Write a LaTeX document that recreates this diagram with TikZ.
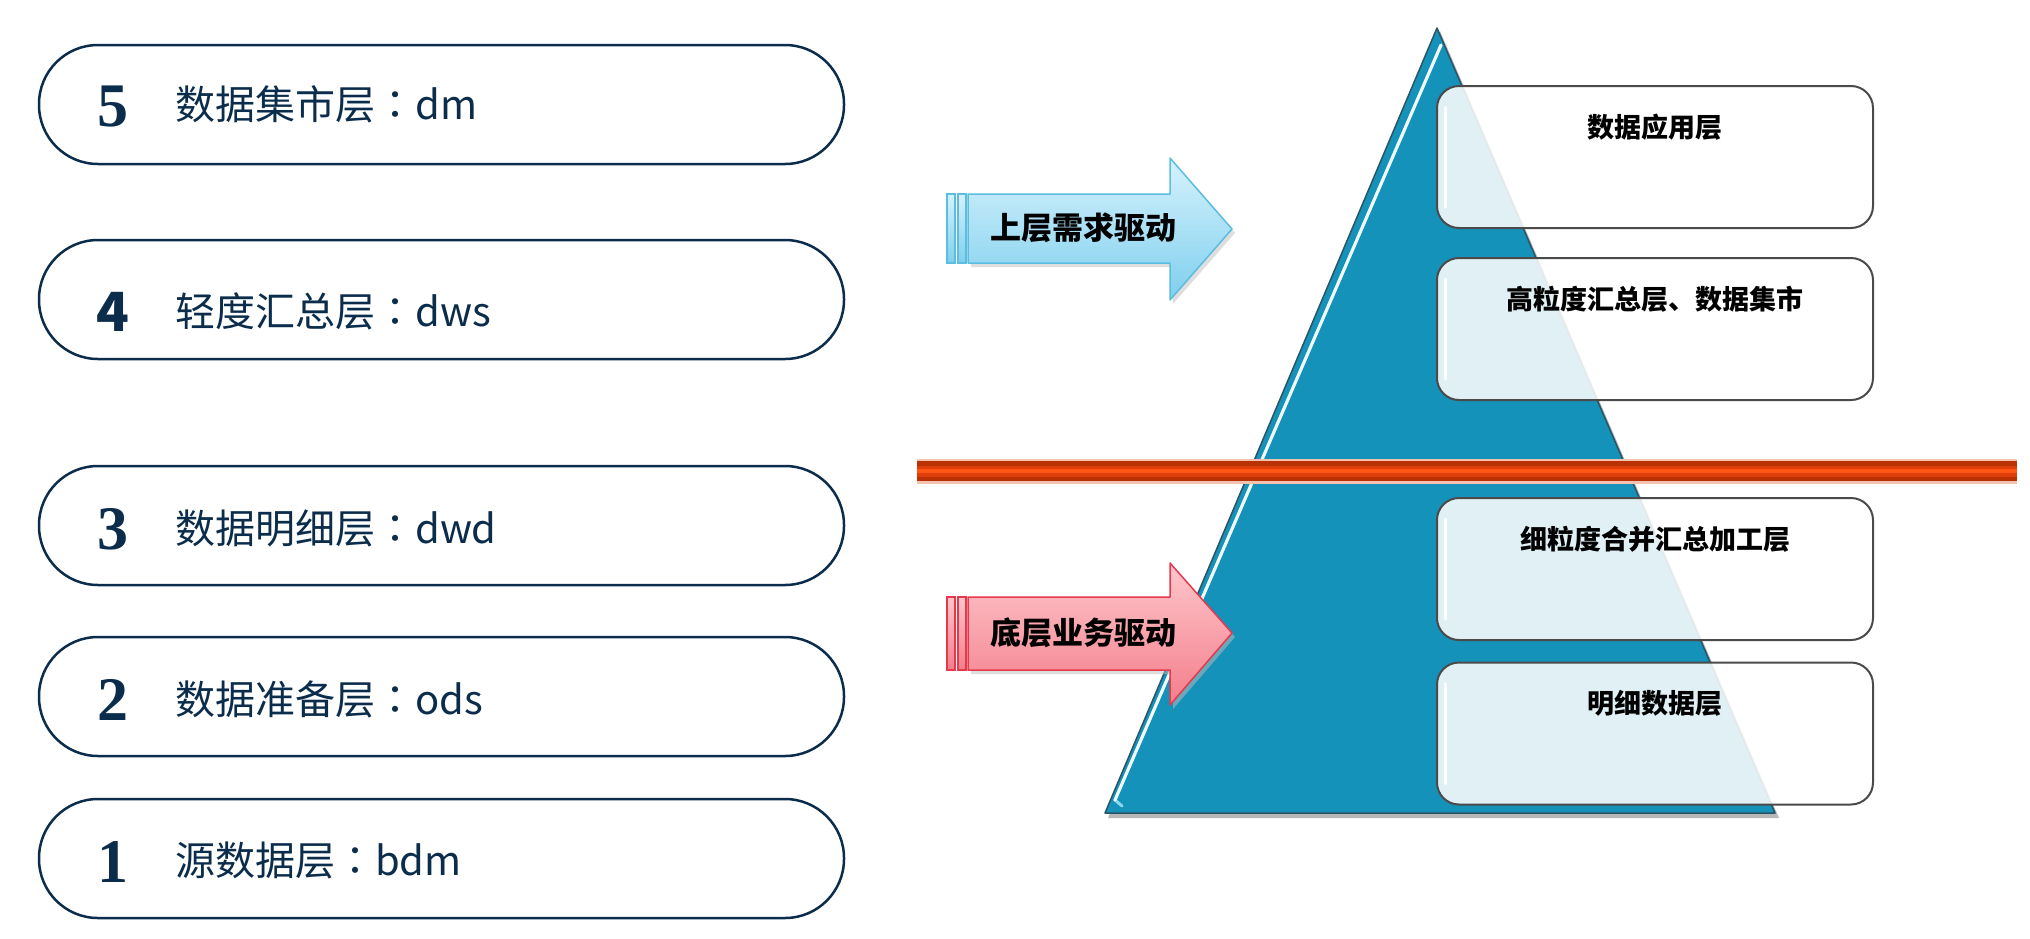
\documentclass[tikz,border=0pt]{standalone}
\usepackage{fontspec}
\setmainfont{Liberation Sans}
\newfontfamily\cjk{Noto Sans CJK SC}
\newfontfamily\cjktc{Noto Sans CJK TC}
\newfontfamily\numfont{Liberation Serif}
\newcommand{\fwcolon}{{\cjktc ：}}
\definecolor{navy}{HTML}{0B2D4B}
\definecolor{teal}{HTML}{1592B9}
\definecolor{tealedge}{HTML}{2A5566}
\definecolor{boxedge}{HTML}{4A4A4A}
\definecolor{redfringe}{HTML}{F3C2B0}
\definecolor{redout}{HTML}{B83205}
\definecolor{redmid}{HTML}{DE3E0A}
\definecolor{redin}{HTML}{FF5616}
\definecolor{bluetop}{HTML}{D6F2FC}
\definecolor{bluebot}{HTML}{7FCFEE}
\definecolor{blueedge}{HTML}{5BBDE0}
\definecolor{redtop}{HTML}{FFC6CC}
\definecolor{redbot}{HTML}{F27E8A}
\definecolor{rededge}{HTML}{E8384C}
\begin{document}
\begin{tikzpicture}[x=1pt,y=-1pt,
  pill/.style={draw=navy, line width=2.5pt, rounded corners=59pt, minimum width=805pt, minimum height=119pt, inner sep=0pt, fill=white},
  num/.style={font=\numfont\bfseries\fontsize{62}{62}\selectfont, text=navy, inner sep=0pt},
  numsans/.style={font=\cjk\bfseries\fontsize{54}{54}\selectfont, text=navy, inner sep=0pt},
  plbl/.style={font=\cjk\fontsize{40}{40}\selectfont, text=navy, anchor=west, inner sep=0pt},
  rbox/.style={draw=boxedge, line width=2pt, rounded corners=22pt, minimum width=436pt, minimum height=142pt, fill=white, fill opacity=0.87, inner sep=0pt},
  rlbl/.style={font=\cjk\bfseries\fontsize{27}{27}\selectfont, text=black, inner sep=0pt},
  albl/.style={font=\cjk\bfseries\fontsize{31}{31}\selectfont, text=black, inner sep=0pt},
  hilite/.style={white, line width=3pt, line cap=round, opacity=0.9}
]
\useasboundingbox (0,0) rectangle (2030,938);
\fill[white] (0,0) rectangle (2030,938);

% left pills
\node[pill] (p5) at (441.5,104.5) {};
\node[pill] (p4) at (441.5,299.5) {};
\node[pill] (p3) at (441.5,525.5) {};
\node[pill] (p2) at (441.5,696.5) {};
\node[pill] (p1) at (441.5,858.5) {};
\node[num] (n5) at (113,106) {5};
\node[numsans] (n4) at (113,312) {4};
\node[num] (n3) at (113,529) {3};
\node[num] (n2) at (113,700) {2};
\node[num] (n1) at (113,862) {1};
\node[plbl] (t5) at (175,104.5) {数据集市层\fwcolon dm};
\node[plbl] (t4) at (175,311.5) {轻度汇总层\fwcolon dws};
\node[plbl] (t3) at (175,528) {数据明细层\fwcolon dwd};
\node[plbl] (t2) at (175,699) {数据准备层\fwcolon ods};
\node[plbl] (t1) at (175,860.5) {源数据层\fwcolon bdm};

% pyramid
\fill[gray!70, opacity=0.8] (1440,31) -- (1779,818) -- (1108,818) -- cycle;
\fill[teal] (1437,28) -- (1775,813) -- (1105,813) -- cycle;
\draw[tealedge, line width=1.5pt, line join=round] (1437,28) -- (1775,813) -- (1105,813) -- cycle;
\draw[hilite, white!60!cyan] (1441,45) -- (1115,800) -- (1122,806);
\draw[hilite] (1441,45) -- (1115,800);

% separator line
\draw[redfringe, line width=25pt] (917,471) -- (2017,471);
\draw[redout, line width=20pt] (917,471) -- (2017,471);
\draw[redmid, line width=11pt] (917,471) -- (2017,471);
\draw[redin, line width=4pt] (917,471) -- (2017,471);

% right boxes
\node[rbox] (b1) at (1655,157) {};
\node[rbox] (b2) at (1655,329) {};
\node[rbox] (b3) at (1655,569) {};
\node[rbox] (b4) at (1655,733.5) {};
\foreach \b in {b1,b2,b3,b4}{
  \draw[hilite] ([xshift=9pt,yshift=-22pt]\b.north west) -- ([xshift=9pt,yshift=22pt]\b.south west);
}
\node[rlbl] (l1) at ([yshift=-42pt]b1.north) {数据应用层};
\node[rlbl] (l2) at ([yshift=-42pt]b2.north) {高粒度汇总层、数据集市};
\node[rlbl] (l3) at ([yshift=-42pt]b3.north) {细粒度合并汇总加工层};
\node[rlbl] (l4) at ([yshift=-42pt]b4.north) {明细数据层};

% blue arrow
\fill[gray!50, opacity=0.5] (971,198) -- (1173,198) -- (1173,162) -- (1235,233) -- (1173,304) -- (1173,267) -- (971,267) -- cycle;
\shade[top color=bluetop, bottom color=bluebot, draw=blueedge, line width=1.5pt, line join=round]
  (968,194) -- (1170,194) -- (1170,158) -- (1232,229) -- (1170,300) -- (1170,263) -- (968,263) -- cycle;
\shade[top color=bluetop, bottom color=bluebot, draw=blueedge, line width=1.5pt] (947,194) rectangle (955,263);
\shade[top color=bluetop, bottom color=bluebot, draw=blueedge, line width=1.5pt] (958,194) rectangle (966,263);
\node[albl] (a1) at (1083,228) {上层需求驱动};

% red arrow
\fill[gray!50, opacity=0.5] (971,601) -- (1173,601) -- (1173,567) -- (1235,637) -- (1173,709) -- (1173,674) -- (971,674) -- cycle;
\shade[top color=redtop, bottom color=redbot, draw=rededge, line width=1.5pt, line join=round]
  (968,597) -- (1170,597) -- (1170,563) -- (1232,633) -- (1170,705) -- (1170,670) -- (968,670) -- cycle;
\shade[top color=redtop, bottom color=redbot, draw=rededge, line width=1.5pt] (947,597) rectangle (955,670);
\shade[top color=redtop, bottom color=redbot, draw=rededge, line width=1.5pt] (958,597) rectangle (966,670);
\node[albl] (a2) at (1083,633) {底层业务驱动};
\end{tikzpicture}
\end{document}
